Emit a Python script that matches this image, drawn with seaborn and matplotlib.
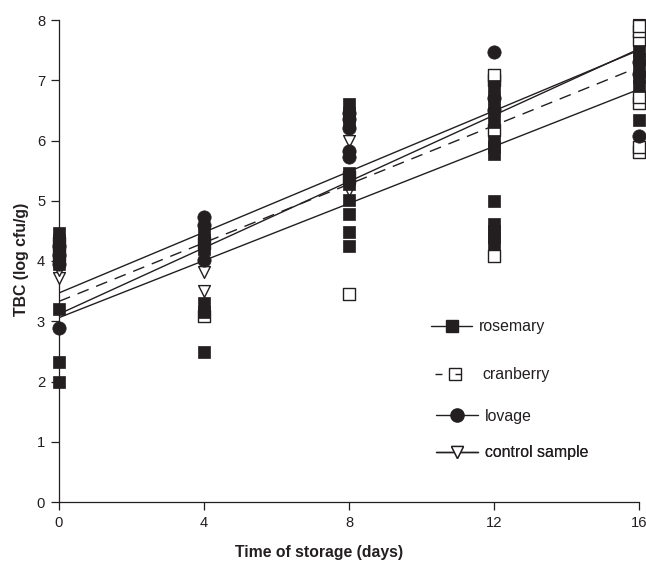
import numpy as np
import pandas as pd
import matplotlib
matplotlib.use("Agg")
import matplotlib.pyplot as plt
from matplotlib.lines import Line2D
import seaborn as sns

# ---------------- data ----------------
days = [0, 4, 8, 12, 16]

rosemary = {
    0: [2.0, 2.32, 3.2, 3.95, 4.1, 4.2, 4.35, 4.46],
    4: [2.49, 3.15, 3.3, 4.2, 4.35, 4.46],
    8: [4.25, 4.48, 4.78, 5.01, 5.28, 5.46, 6.3, 6.45, 6.6],
    12: [4.28, 4.4, 4.5, 4.61, 5.0, 5.78, 5.9, 6.0, 6.3, 6.5, 6.7, 6.9],
    16: [6.34, 6.9, 7.05, 7.2, 7.35, 7.49],
}
cranberry = {
    0: [4.1, 4.3],
    4: [3.09, 4.3],
    8: [3.45, 5.4],
    12: [4.08, 6.17, 7.0, 7.09],
    16: [5.81, 5.89, 6.62, 6.72, 7.67, 7.82, 7.9],
}
lovage = {
    0: [2.89, 3.95, 4.1, 4.25],
    4: [4.02, 4.6, 4.73],
    8: [5.73, 5.83, 6.2, 6.35, 6.45],
    12: [6.5, 6.7, 7.47],
    16: [6.07, 7.1, 7.3],
}
control = {
    0: [3.72, 3.85],
    4: [3.5, 3.82],
    8: [5.18, 5.99],
    12: [6.6],
    16: [7.7, 7.92],
}

series_names = ["rosemary", "cranberry", "lovage", "control sample"]
# fitted trend lines (value at day 0 and value at day 16)
line_start = [3.06, 3.33, 3.47, 3.12]
line_end = [6.85, 7.22, 7.50, 7.52]

x_ticks = [0, 4, 8, 12, 16]
y_ticks = [0, 1, 2, 3, 4, 5, 6, 7, 8]
x_label = "Time of storage (days)"
y_label = "TBC (log cfu/g)"


def to_frame(d):
    xs, ys = [], []
    for k, vals in d.items():
        xs += [k] * len(vals)
        ys += vals
    return pd.DataFrame({"day": xs, "tbc": ys})


# ---------------- style ----------------
sns.set_style("ticks")
plt.rcParams["font.family"] = ["Liberation Sans", "DejaVu Sans"]
plt.rcParams["lines.scale_dashes"] = False
ink = "#231f20"

fig = plt.figure(figsize=(6.46, 5.69), dpi=100)
ax = fig.add_axes([59 / 646, 67 / 569, 580 / 646, 482 / 569])

# trend lines
styles = [dict(ls="-"), dict(ls=(0, (8.6, 5.8))), dict(ls="-"), dict(ls="-")]
for name, a, b, st in zip(series_names, line_start, line_end, styles):
    lf = pd.DataFrame({"day": [days[0], days[-1]], "tbc": [a, b]})
    sns.lineplot(data=lf, x="day", y="tbc", ax=ax, color=ink, lw=1.0,
                 linestyle=st["ls"], zorder=2)

# markers
ms = 80
sns.scatterplot(data=to_frame(control), x="day", y="tbc", ax=ax, marker="v",
                s=ms * 0.9, color="white", edgecolor=ink, linewidth=1.0,
                zorder=3, clip_on=False)
sns.scatterplot(data=to_frame(cranberry), x="day", y="tbc", ax=ax, marker="s",
                s=ms, color="white", edgecolor=ink, linewidth=1.0,
                zorder=3, clip_on=False)
sns.scatterplot(data=to_frame(lovage), x="day", y="tbc", ax=ax, marker="o",
                s=ms * 1.15, color=ink, edgecolor=ink, linewidth=0.5,
                zorder=4, clip_on=False)
sns.scatterplot(data=to_frame(rosemary), x="day", y="tbc", ax=ax, marker="s",
                s=ms, color=ink, edgecolor=ink, linewidth=0.5,
                zorder=5, clip_on=False)

ax.set_xlim(0, 16)
ax.set_ylim(0, 8)
ax.set_xticks(x_ticks)
ax.set_yticks(y_ticks)
ax.tick_params(axis="both", direction="out", length=6, width=0.9,
               colors=ink, labelsize=10.6, labelcolor=ink, pad=4)
sns.despine(ax=ax)
for sp in ["left", "bottom"]:
    ax.spines[sp].set_color(ink)
    ax.spines[sp].set_linewidth(0.9)

ax.set_xlabel(x_label, fontsize=11.3, fontweight="bold", color=ink)
ax.set_ylabel(y_label, fontsize=11.4, fontweight="bold", color=ink)
ax.xaxis.set_label_coords((319 - 59) / 580, -(552 - 502) / 482)
ax.yaxis.set_label_coords(-(59 - 22) / 580, (502 - 259) / 482)
ax.xaxis.label.set_va("center")
ax.yaxis.label.set_va("center")

# legend: one entry per row, placed like the original
handles = [
    Line2D([], [], color=ink, lw=1.0, marker="s", ms=9, mfc=ink, mec=ink),
    Line2D([], [], color=ink, lw=1.0, ls=(0, (5.0, 9.4, 4.3, 30)), marker="s",
           ms=8.5, mfc="none", mec=ink, mew=1.0),
    Line2D([], [], color=ink, lw=1.0, marker="o", ms=9.5, mfc=ink, mec=ink),
    Line2D([], [], color=ink, lw=1.0, marker="v", ms=9, mfc="white", mec=ink,
           mew=1.0),
]
rows = [(431, 327, 41), (435, 375, 40), (436, 416, 42), (436, 453, 42)]
fs = 11.4
for h, name, (x0, yc, w) in zip(handles, series_names, rows):
    leg = ax.legend([h], [name], loc="center left",
                    bbox_to_anchor=(x0 / 646, 1 - yc / 569),
                    bbox_transform=fig.transFigure, frameon=False,
                    borderpad=0, borderaxespad=0, fontsize=fs,
                    handlelength=w / (fs / 0.72), handletextpad=0.45,
                    labelcolor=ink)
    ax.add_artist(leg)

fig.savefig("out.png", dpi=100)
